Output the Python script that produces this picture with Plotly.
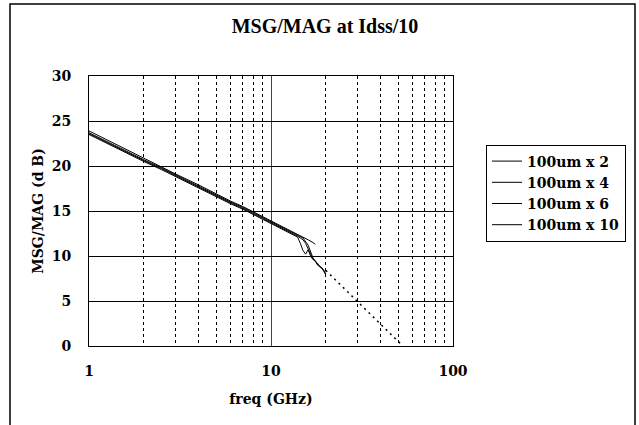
import plotly.graph_objects as go

# Measured MSG/MAG (dB) vs frequency (GHz) for four gate peripheries
freq_x2 = [1, 1.2, 1.5, 2, 2.5, 3, 4, 5, 6, 7, 8, 9, 10, 11, 12, 13, 14, 15, 16, 17, 17.5]
msg_x2 = [23.9, 23.1, 22.1, 20.9, 19.9, 19.1, 17.9, 16.9, 16.1, 15.5, 14.9, 14.4, 13.9,
          13.5, 13.1, 12.8, 12.4, 12.1, 11.8, 11.5, 11.3]

freq_x4 = [1, 1.2, 1.5, 2, 2.5, 3, 4, 5, 6, 7, 8, 9, 10, 11, 12, 13, 14, 14.5, 15,
           15.5, 16, 16.5, 17, 18, 19, 20]
msg_x4 = [23.6, 22.8, 21.9, 20.6, 19.7, 18.9, 17.7, 16.7, 15.9, 15.3, 14.7, 14.2, 13.7,
          13.3, 12.9, 12.6, 12.2, 12.0, 11.8, 11.4, 10.7, 10.2, 9.7, 9.1, 8.6, 8.2]

freq_x6 = [1, 1.2, 1.5, 2, 2.5, 3, 4, 5, 6, 7, 8, 9, 10, 11, 12, 13, 14, 14.5, 15,
           15.5, 16, 16.5, 17, 17.5, 18, 19, 20]
msg_x6 = [23.5, 22.7, 21.8, 20.5, 19.6, 18.8, 17.6, 16.6, 15.8, 15.2, 14.6, 14.1, 13.6,
          13.2, 12.8, 12.5, 12.1, 11.4, 10.6, 10.2, 10.7, 10.0, 9.6, 9.5, 9.0, 8.7, 8.0]

freq_x10 = [1, 1.2, 1.5, 2, 2.5, 3, 4, 5, 6, 7, 8, 9, 10, 11, 12, 13, 14, 15, 16,
            16.5, 17, 17.5, 18, 18.5, 19, 19.5, 20]
msg_x10 = [23.7, 22.9, 22.0, 20.7, 19.8, 19.0, 17.8, 16.8, 16.0, 15.4, 14.8, 14.3, 13.8,
           13.4, 13.0, 12.7, 12.3, 12.0, 11.2, 10.5, 9.8, 9.4, 9.2, 8.8, 8.7, 8.3, 7.9]

# -20 dB/decade extrapolation of the high-frequency gain
freq_ext = [20, 53]
msg_ext = [8.4, 0.0]

series_names = ["100um x 2", "100um x 4", "100um x 6", "100um x 10"]
series_freq = [freq_x2, freq_x4, freq_x6, freq_x10]
series_msg = [msg_x2, msg_x4, msg_x6, msg_x10]

x_tick_vals = [1, 10, 100]
x_tick_text = ["1", "10", "100"]
y_tick_vals = [0, 5, 10, 15, 20, 25, 30]


def bold(s):
    return "<b>" + s + "</b>"


SERIF = "DejaVu Serif"

fig = go.Figure()
for name, f, m in zip(series_names, series_freq, series_msg):
    fig.add_trace(go.Scatter(x=f, y=m, mode="lines", name=bold(name),
                             line=dict(color="black", width=1)))

fig.add_trace(go.Scatter(x=freq_ext, y=msg_ext, mode="lines", showlegend=False,
                         line=dict(color="black", width=1.5, dash="2px,4px")))

fig.update_layout(
    width=639, height=425,
    margin=dict(l=89, r=186, t=76, b=79),
    paper_bgcolor="white", plot_bgcolor="white",
    font=dict(family=SERIF, color="black", size=13),
    title=dict(text=bold("MSG/MAG at Idss/10"), x=325 / 639, xanchor="center",
               y=1 - 26 / 425, yanchor="middle",
               font=dict(family="Liberation Serif", size=20, color="black")),
    showlegend=True,
    legend=dict(x=(486 - 89) / 364, y=(346 - 193) / 270, xanchor="left", yanchor="middle",
                bordercolor="black", borderwidth=1, bgcolor="white",
                font=dict(family=SERIF, size=14),
                tracegroupgap=0, itemwidth=30),
    shapes=[dict(type="rect", xref="paper", yref="paper",
                 x0=(10 - 89) / 364, x1=(635 - 89) / 364,
                 y0=(346 - 440) / 270, y1=(346 - 4) / 270,
                 line=dict(color="black", width=1.5), layer="below")],
)

fig.update_xaxes(
    type="log", range=[0, 2],
    tickvals=x_tick_vals, ticktext=[bold(t) for t in x_tick_text],
    tickfont=dict(family=SERIF, size=14),
    ticks="", ticklabelstandoff=12,
    showline=True, linecolor="black", linewidth=1, mirror=True,
    showgrid=True, gridcolor="#444", gridwidth=1,
    minor=dict(showgrid=True, gridcolor="black", gridwidth=1, griddash="3px,3px",
               dtick="D1"),
    title=dict(text=bold("freq (GHz)"), standoff=16,
               font=dict(family=SERIF, size=14)),
    zeroline=False,
)
fig.update_yaxes(
    range=[0, 30], tickvals=y_tick_vals,
    ticktext=[bold(str(v)) for v in y_tick_vals],
    tickfont=dict(family=SERIF, size=14),
    ticks="", ticklabelstandoff=14,
    showline=True, linecolor="black", linewidth=1, mirror=True,
    showgrid=True, gridcolor="black", gridwidth=1,
    title=dict(text=bold("MSG/MAG (d B)"), standoff=4,
               font=dict(family=SERIF, size=14)),
    zeroline=False,
)

fig.write_html("out.html")
